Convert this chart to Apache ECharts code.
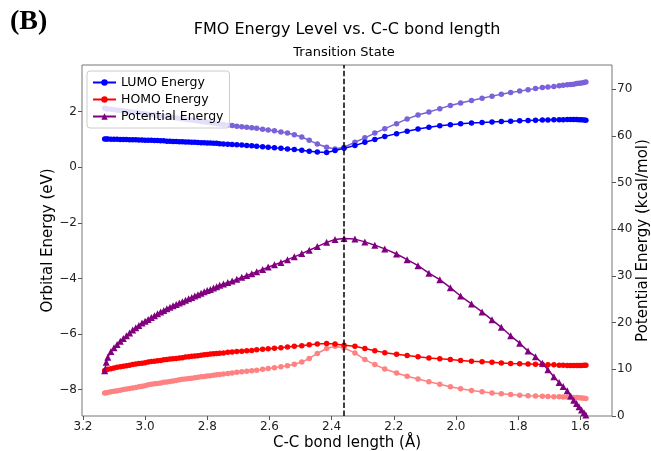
<!DOCTYPE html>
<html><head><meta charset="utf-8">
<script src="https://cdn.jsdelivr.net/npm/echarts@6/dist/echarts.min.js"></script>
<style>html,body{margin:0;padding:0;background:#fff}#c{width:651px;height:451px}</style>
</head><body><div id="c"></div>
<script>
// C-C bond length (Å) along the reaction path
const bondLength = [3.13,3.125,3.12,3.11,3.10,3.09,3.08,3.07,3.06,3.05,3.04,3.03,3.02,3.01,3.00,2.99,2.98,2.97,2.96,2.95,2.94,2.93,2.92,2.91,2.90,2.89,2.88,2.87,2.86,2.85,2.84,2.83,2.82,2.81,2.80,2.79,2.78,2.77,2.76,
2.748,2.734,2.720,2.705,2.689,2.673,2.657,2.641,2.622,2.604,2.584,2.563,2.542,2.520,2.496,2.472,2.446,2.416,2.389,2.360,
2.325,2.293,2.261,2.229,2.191,2.157,2.122,2.087,2.052,2.018,1.985,1.950,1.916,1.884,1.854,1.824,1.795,1.768,1.744,1.722,1.704,1.685,1.668,1.655,1.642,1.631,1.621,1.612,1.604,1.596,1.588,1.582];

const lumo = [1.02,1.02,1.02,1.01,1.01,1.01,1.00,1.00,1.00,0.99,0.99,0.99,0.98,0.98,0.97,0.97,0.97,0.96,0.96,0.95,0.95,0.94,0.94,0.93,0.93,0.92,0.92,0.91,0.91,0.90,0.90,0.89,0.88,0.88,0.87,0.87,0.86,0.86,0.85,
0.84,0.83,0.82,0.81,0.80,0.78,0.77,0.76,0.74,0.72,0.70,0.68,0.66,0.64,0.61,0.58,0.55,0.53,0.60,0.68,
0.78,0.90,1.00,1.11,1.21,1.30,1.38,1.44,1.49,1.53,1.57,1.59,1.61,1.63,1.65,1.66,1.67,1.68,1.69,1.70,1.70,1.71,1.71,1.71,1.72,1.72,1.72,1.72,1.71,1.71,1.70,1.69];

const homo = [-7.31,-7.29,-7.27,-7.25,-7.22,-7.20,-7.18,-7.16,-7.14,-7.12,-7.10,-7.08,-7.06,-7.05,-7.03,-7.01,-6.99,-6.98,-6.96,-6.95,-6.93,-6.92,-6.90,-6.89,-6.88,-6.86,-6.85,-6.83,-6.82,-6.80,-6.79,-6.78,-6.76,-6.75,-6.74,-6.72,-6.71,-6.70,-6.69,
-6.68,-6.66,-6.65,-6.63,-6.62,-6.60,-6.59,-6.57,-6.55,-6.53,-6.51,-6.49,-6.47,-6.44,-6.42,-6.39,-6.36,-6.34,-6.36,-6.40,
-6.44,-6.52,-6.60,-6.67,-6.73,-6.77,-6.82,-6.86,-6.89,-6.92,-6.95,-6.98,-7.00,-7.02,-7.04,-7.06,-7.07,-7.08,-7.09,-7.10,-7.11,-7.11,-7.12,-7.12,-7.13,-7.13,-7.13,-7.13,-7.13,-7.13,-7.12,-7.12];

const lumoAlt = [2.12,2.11,2.10,2.09,2.07,2.06,2.04,2.03,2.01,2.00,1.98,1.97,1.95,1.94,1.92,1.91,1.89,1.88,1.86,1.85,1.83,1.82,1.80,1.79,1.77,1.76,1.74,1.73,1.71,1.70,1.68,1.67,1.65,1.64,1.62,1.61,1.59,1.58,1.56,
1.54,1.52,1.50,1.48,1.46,1.44,1.42,1.40,1.37,1.34,1.31,1.27,1.23,1.17,1.09,0.97,0.84,0.72,0.66,0.72,
0.90,1.06,1.23,1.39,1.57,1.74,1.88,1.99,2.11,2.22,2.31,2.40,2.48,2.56,2.63,2.69,2.74,2.79,2.83,2.87,2.89,2.91,2.93,2.95,2.97,2.98,2.99,3.01,3.02,3.03,3.05,3.07];

const homoAlt = [-8.12,-8.11,-8.10,-8.08,-8.06,-8.04,-8.02,-8.00,-7.98,-7.96,-7.94,-7.92,-7.90,-7.88,-7.86,-7.83,-7.81,-7.79,-7.78,-7.76,-7.74,-7.73,-7.71,-7.69,-7.67,-7.65,-7.63,-7.62,-7.60,-7.59,-7.57,-7.56,-7.54,-7.53,-7.51,-7.50,-7.48,-7.47,-7.46,
-7.44,-7.42,-7.40,-7.38,-7.36,-7.34,-7.32,-7.30,-7.27,-7.24,-7.21,-7.18,-7.14,-7.09,-7.01,-6.88,-6.70,-6.52,-6.44,-6.50,
-6.68,-6.92,-7.10,-7.26,-7.40,-7.52,-7.62,-7.72,-7.81,-7.90,-7.97,-8.03,-8.08,-8.12,-8.15,-8.18,-8.20,-8.22,-8.23,-8.24,-8.25,-8.26,-8.26,-8.27,-8.27,-8.28,-8.28,-8.28,-8.29,-8.30,-8.31,-8.32];

const potential = [9.7,11.5,12.6,13.8,14.6,15.3,16.0,16.6,17.2,17.8,18.4,18.9,19.4,19.9,20.3,20.7,21.1,21.5,21.9,22.3,22.6,23.0,23.3,23.6,23.9,24.2,24.5,24.8,25.1,25.4,25.7,26.0,26.3,26.6,26.9,27.1,27.4,27.7,28.0,
28.3,28.6,28.9,29.3,29.7,30.1,30.5,30.9,31.4,31.9,32.4,32.9,33.5,34.1,34.8,35.5,36.3,37.2,37.8,38.05,
37.9,37.3,36.6,35.8,34.7,33.5,32.2,30.6,29.2,27.5,25.7,24.0,22.3,20.6,19.0,17.2,15.6,13.9,12.7,11.3,9.9,8.4,7.2,6.3,5.4,4.3,3.4,2.7,2.0,1.3,0.7,0.2];

const transitionState = 2.36;
const xTicks = [3.2,3.0,2.8,2.6,2.4,2.2,2.0,1.8,1.6];
const leftTicks = [-8,-6,-4,-2,0,2];
const rightTicks = [0,10,20,30,40,50,60,70];

const FONT = 'DejaVu Sans';
const pair = arr => bondLength.map((x, i) => [x, arr[i]]);
const minus = v => (v < 0 ? '\u2212' + Math.abs(v) : String(v));

const chart = echarts.init(document.getElementById('c'), null, {renderer: 'canvas'});
chart.setOption({
  animation: false,
  backgroundColor: '#fff',
  textStyle: {fontFamily: FONT},
  grid: {left: 82, right: 39, top: 65, bottom: 35, show: true, borderColor: '#777', borderWidth: 1,
         backgroundColor: 'transparent', containLabel: false, outerBoundsMode: 'none'},
  graphic: [
    {type: 'text', left: 10, top: 8, style: {text: '(B)', font: 'bold 28px "Liberation Serif"', fill: '#000'}},
    {type: 'text', x: 347, y: 30, style: {text: 'FMO Energy Level vs. C-C bond length', font: '16px "DejaVu Sans"', fill: '#000', textAlign: 'center', textVerticalAlign: 'middle'}}
  ],
  legend: {
    data: ['LUMO Energy', 'HOMO Energy', 'Potential Energy'],
    orient: 'vertical', left: 87, top: 71,
    itemWidth: 23, itemHeight: 8, itemGap: 4,
    padding: [5, 6, 5, 5],
    backgroundColor: 'rgba(255,255,255,0.8)', borderColor: '#ccc', borderWidth: 1, borderRadius: 3,
    textStyle: {fontFamily: FONT, fontSize: 12.5, color: '#000'}
  },
  xAxis: {
    type: 'value', inverse: true, min: 1.498, max: 3.203,
    name: 'C-C bond length (Å)', nameLocation: 'middle', nameGap: 20, nameMoveOverlap: false,
    nameTextStyle: {fontFamily: FONT, fontSize: 15, color: '#000'},
    axisLine: {show: false, onZero: false},
    axisTick: {show: true, length: 4, lineStyle: {color: '#555'}, customValues: xTicks},
    axisLabel: {customValues: xTicks, formatter: v => v.toFixed(1), fontSize: 12, color: '#222', margin: 5},
    splitLine: {show: false}
  },
  yAxis: [
    {
      type: 'value', min: -8.95, max: 3.68, position: 'left',
      name: 'Orbital Energy (eV)', nameLocation: 'middle', nameGap: 26, nameRotate: 90, nameMoveOverlap: false,
      nameTextStyle: {fontFamily: FONT, fontSize: 15, color: '#000'},
      axisLine: {show: false, onZero: false},
      axisTick: {show: true, length: 4, lineStyle: {color: '#555'}, customValues: leftTicks},
      axisLabel: {customValues: leftTicks, formatter: minus, fontSize: 12, color: '#222', margin: 5},
      splitLine: {show: false}
    },
    {
      type: 'value', min: 0, max: 75.2, position: 'right',
      name: 'Potential Energy (kcal/mol)', nameLocation: 'middle', nameGap: 24, nameRotate: 90, nameMoveOverlap: false,
      nameTextStyle: {fontFamily: FONT, fontSize: 15, color: '#000'},
      axisLine: {show: false, onZero: false},
      axisTick: {show: true, length: 4, lineStyle: {color: '#555'}, customValues: rightTicks},
      axisLabel: {customValues: rightTicks, fontSize: 12, color: '#222', margin: 5},
      splitLine: {show: false}
    }
  ],
  series: [
    {name: 'LUMO (alt)', type: 'line', yAxisIndex: 0, data: pair(lumoAlt), symbol: 'circle', symbolSize: 5.5, showAllSymbol: true,
     lineStyle: {color: '#7a62d9', width: 1.5}, itemStyle: {color: '#7a62d9'}, z: 2},
    {name: 'HOMO (alt)', type: 'line', yAxisIndex: 0, data: pair(homoAlt), symbol: 'circle', symbolSize: 5.5, showAllSymbol: true,
     lineStyle: {color: '#ff8282', width: 1.5}, itemStyle: {color: '#ff8282'}, z: 2},
    {name: 'LUMO Energy', type: 'line', yAxisIndex: 0, data: pair(lumo), symbol: 'circle', symbolSize: 5.5, showAllSymbol: true,
     lineStyle: {color: '#0000ff', width: 1.5}, itemStyle: {color: '#0000ff'}, z: 3,
     markLine: {silent: true, symbol: 'none', animation: false,
       lineStyle: {type: [5.5, 2.4], color: '#000', width: 1.5},
       label: {show: true, position: 'end', formatter: 'Transition State', fontFamily: FONT, fontSize: 13, color: '#000', distance: 6},
       data: [{xAxis: transitionState}]}},
    {name: 'HOMO Energy', type: 'line', yAxisIndex: 0, data: pair(homo), symbol: 'circle', symbolSize: 5.5, showAllSymbol: true,
     lineStyle: {color: '#ff0000', width: 1.5}, itemStyle: {color: '#ff0000'}, z: 3},
    {name: 'Potential Energy', type: 'line', yAxisIndex: 1, data: pair(potential), symbol: 'triangle', symbolSize: 7, showAllSymbol: true,
     lineStyle: {color: '#800080', width: 1.5}, itemStyle: {color: '#800080'}, z: 4}
  ]
});
</script></body></html>
